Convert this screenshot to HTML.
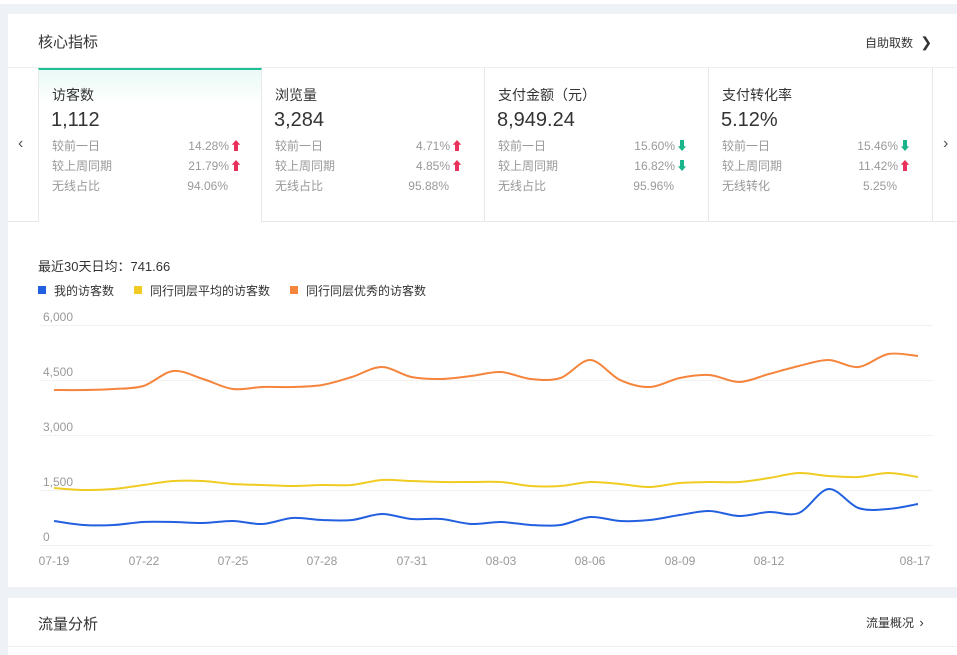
<!DOCTYPE html>
<html><head><meta charset="utf-8"><style>
*{margin:0;padding:0;box-sizing:border-box}
body{width:957px;height:655px;background:#eef1f5;font-family:"Liberation Sans","Noto Sans CJK SC",sans-serif;position:relative;overflow:hidden;color:#333}
.a{position:absolute;white-space:nowrap}
.card{position:absolute;background:#fff}
.tab{position:absolute;top:68px;height:153px;width:224px;border-right:1px solid #e8e8e8}
.tab .t{position:absolute;left:13px;top:17px;font-size:14px;color:#333}
.tab .v{position:absolute;left:12px;top:41px;font-size:20px;color:#333}
.tab .r{position:absolute;left:13px;font-size:12px;color:#999;width:210px;height:16px;line-height:16px}
.tab .r span{position:absolute;top:0;right:20px}
.tab .r span.n{right:34px}
.tab .r b{font-weight:normal;margin-left:1px;display:inline-block;width:12px;text-align:center}
.up{color:#e8305a}
.dn{color:#19b48a}
</style></head><body>
<div class="card" style="left:0;top:0;width:957px;height:4px"></div>
<div class="card" style="left:8px;top:14px;width:949px;height:573px"></div>
<div class="a" style="left:38px;top:31px;font-size:15px;color:#333">核心指标</div>
<div class="a" style="left:865px;top:34px;font-size:12px;color:#333">自助取数 <span style="font-size:14px;margin-left:4px">&#x276F;</span></div>
<div class="a" style="left:8px;top:67px;width:949px;height:1px;background:#eceef0"></div>
<div class="a" style="left:8px;top:221px;width:949px;height:1px;background:#e8e8e8"></div>
<div class="a" style="left:18px;top:135px;font-size:16px;color:#555">&#x2039;</div>
<div class="a" style="left:943px;top:135px;font-size:16px;color:#555">&#x203A;</div>

<div class="tab" style="left:38px;border-left:1px solid #e8e8e8;border-top:2px solid #1fbf94;background:linear-gradient(#eafaf6,#fff 35px);height:154px">
<div class="t" style="top:15px">访客数</div><div class="v" style="top:39px">1,112</div>
<div class="r" style="top:68px">较前一日<span>14.28%<b class="up">&#x2B06;</b></span></div>
<div class="r" style="top:88px">较上周同期<span>21.79%<b class="up">&#x2B06;</b></span></div>
<div class="r" style="top:108px">无线占比<span class="n">94.06%</span></div>
</div>
<div class="tab" style="left:262px;width:223px">
<div class="t">浏览量</div><div class="v">3,284</div>
<div class="r" style="top:70px">较前一日<span style="right:22px">4.71%<b class="up">&#x2B06;</b></span></div>
<div class="r" style="top:90px">较上周同期<span style="right:22px">4.85%<b class="up">&#x2B06;</b></span></div>
<div class="r" style="top:110px">无线占比<span class="n" style="right:36px">95.88%</span></div>
</div>
<div class="tab" style="left:485px">
<div class="t">支付金额（元）</div><div class="v">8,949.24</div>
<div class="r" style="top:70px">较前一日<span>15.60%<b class="dn">&#x2B07;</b></span></div>
<div class="r" style="top:90px">较上周同期<span>16.82%<b class="dn">&#x2B07;</b></span></div>
<div class="r" style="top:110px">无线占比<span class="n">95.96%</span></div>
</div>
<div class="tab" style="left:709px">
<div class="t">支付转化率</div><div class="v">5.12%</div>
<div class="r" style="top:70px">较前一日<span style="right:21px">15.46%<b class="dn">&#x2B07;</b></span></div>
<div class="r" style="top:90px">较上周同期<span style="right:21px">11.42%<b class="up">&#x2B06;</b></span></div>
<div class="r" style="top:110px">无线转化<span class="n" style="right:35px">5.25%</span></div>
</div>

<div class="a" style="left:38px;top:256px;font-size:13px;color:#333">最近30天日均：741.66</div>
<div class="a" style="left:38px;top:286px;width:8px;height:8px;background:#2360e0"></div>
<div class="a" style="left:54px;top:282px;font-size:12px">我的访客数</div>
<div class="a" style="left:134px;top:286px;width:8px;height:8px;background:#f0cc22"></div>
<div class="a" style="left:150px;top:282px;font-size:12px">同行同层平均的访客数</div>
<div class="a" style="left:290px;top:286px;width:8px;height:8px;background:#f5843c"></div>
<div class="a" style="left:306px;top:282px;font-size:12px">同行同层优秀的访客数</div>

<svg class="a" style="left:0;top:0" width="957" height="655" id="s">
<g stroke="#f2f2f2" stroke-width="1">
<line x1="40" x2="933" y1="325.5" y2="325.5"/><line x1="40" x2="933" y1="380.5" y2="380.5"/>
<line x1="40" x2="933" y1="435.5" y2="435.5"/><line x1="40" x2="933" y1="490.5" y2="490.5"/>
<line x1="40" x2="933" y1="545.5" y2="545.5"/></g>
<g font-family="Liberation Sans" font-size="12" fill="#999">
<text x="43" y="321">6,000</text><text x="43" y="376">4,500</text><text x="43" y="431">3,000</text>
<text x="43" y="486">1,500</text><text x="43" y="541">0</text>
<g text-anchor="middle">
<text x="54" y="565">07-19</text><text x="144" y="565">07-22</text><text x="233" y="565">07-25</text>
<text x="322" y="565">07-28</text><text x="412" y="565">07-31</text><text x="501" y="565">08-03</text>
<text x="590" y="565">08-06</text><text x="680" y="565">08-09</text><text x="769" y="565">08-12</text>
<text x="915" y="565">08-17</text></g></g>
<path id="po" fill="none" stroke="#f5843c" stroke-width="2"/>
<path id="py" fill="none" stroke="#f0cc22" stroke-width="2"/>
<path id="pb" fill="none" stroke="#2360e0" stroke-width="2"/>
</svg>

<div class="card" style="left:8px;top:598px;width:949px;height:57px"></div>
<div class="a" style="left:8px;top:646px;width:949px;height:1px;background:#eceef0"></div>
<div class="a" style="left:38px;top:613px;font-size:15px;color:#333">流量分析</div>
<div class="a" style="left:866px;top:614px;font-size:12px;color:#333">流量概况 <span style="font-size:13px;margin-left:2px">&#x203A;</span></div>
<script>
var O=[390,390,389,386,371,379,389,387,387,385,377,367,377,379,376,372,379,378,360,380,387,378,375,382,374,366,360,367,354,356];
var Y=[488,490,489,485,481,481,484,485,486,485,485,480,481,482,482,482,486,486,482,484,487,483,482,482,478,473,476,477,473,477];
var B=[521,525,525,522,522,523,521,524,518,520,520,514,519,519,524,522,525,525,517,521,520,515,511,516,512,513,489,508,509,504];
function p(a){var st=864/29,pts=a.map(function(v,i){return [54+i*st,v]});var d="M"+pts[0][0]+","+pts[0][1];
for(var i=0;i<pts.length-1;i++){var p0=pts[i-1]||pts[i],p1=pts[i],p2=pts[i+1],p3=pts[i+2]||p2;var t=0.16;
d+=" C"+(p1[0]+(p2[0]-p0[0])*t)+","+(p1[1]+(p2[1]-p0[1])*t)+" "+(p2[0]-(p3[0]-p1[0])*t)+","+(p2[1]-(p3[1]-p1[1])*t)+" "+p2[0]+","+p2[1];}return d;}
document.getElementById("po").setAttribute("d",p(O));
document.getElementById("py").setAttribute("d",p(Y));
document.getElementById("pb").setAttribute("d",p(B));
</script>
</body></html>
